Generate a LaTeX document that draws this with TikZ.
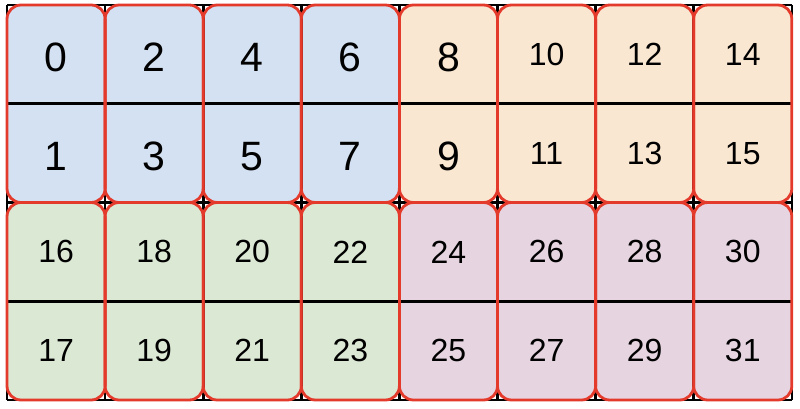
\documentclass[tikz,border=0pt]{standalone}
\usepackage{fontspec}
\setmainfont{Liberation Sans}
\usetikzlibrary{positioning}
\definecolor{blueblk}{RGB}{212,225,242}
\definecolor{orangeblk}{RGB}{250,231,209}
\definecolor{greenblk}{RGB}{219,232,212}
\definecolor{purpleblk}{RGB}{230,213,225}
\definecolor{redline}{RGB}{228,58,44}
\tikzset{block/.style={rectangle,minimum width=98.1pt,minimum height=197.5pt,inner sep=0pt,outer sep=0pt,rounded corners=14pt},
         frame/.style={draw=redline,line width=2.8pt,rounded corners=14pt},
         gridline/.style={black,line width=2.6pt}
}
\tikzstyle{big} = [font=\fontsize{41}{48}\selectfont,yshift=-3pt]
\tikzstyle{small} = [font=\fontsize{32}{38}\selectfont]

\begin{document}
\begin{tikzpicture}[x=1pt,y=1pt]
\useasboundingbox (0,0) rectangle (800,408);

% filled blocks, two rows high
\foreach \c/\tc/\bc in {0/blueblk/greenblk,1/blueblk/greenblk,2/blueblk/greenblk,3/blueblk/greenblk,
                        4/orangeblk/purpleblk,5/orangeblk/purpleblk,6/orangeblk/purpleblk,7/orangeblk/purpleblk}{
  \node[block,fill=\tc] (t\c) at (56.05+98.1*\c,304.25) {};
  \node[block,fill=\bc] (b\c) at (56.05+98.1*\c,106.75) {};
}

% black grid
\draw[gridline] (t0.north west)--(t7.north east);
\draw[gridline] (t0.west)--(t7.east);
\draw[gridline] (t0.south west)--(t7.south east);
\draw[gridline] (b0.west)--(b7.east);
\draw[gridline] (b0.south west)--(b7.south east);
\foreach \c in {0,...,7}
  \draw[gridline] (t\c.north west)--(b\c.south west);
\draw[gridline] (t7.north east)--(b7.south east);

% red frames
\foreach \c in {0,...,7}{
  \draw[frame] (t\c.south west) rectangle (t\c.north east);
  \draw[frame] (b\c.south west) rectangle (b\c.north east);
}

% numbers
\foreach \c/\ts in {0/big,1/big,2/big,3/big,4/big,5/small,6/small,7/small}{
  \pgfmathtruncatemacro\na{2*\c}
  \pgfmathtruncatemacro\nb{2*\c+1}
  \pgfmathtruncatemacro\nc{16+2*\c}
  \pgfmathtruncatemacro\nd{17+2*\c}
  \node[\ts] (n\na) at ([yshift=49.4pt]t\c.center) {\na};
  \node[\ts] (n\nb) at ([yshift=-49.4pt]t\c.center) {\nb};
  \node[small] (n\nc) at ([yshift=49.4pt]b\c.center) {\nc};
  \node[small] (n\nd) at ([yshift=-49.4pt]b\c.center) {\nd};
}

\end{tikzpicture}
\end{document}
